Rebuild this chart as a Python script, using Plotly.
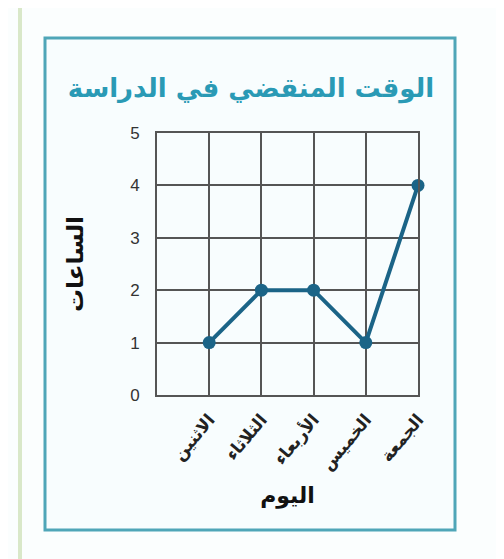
import plotly.graph_objects as go

days = ["الاثنين", "الثلاثاء", "الأربعاء", "الخميس", "الجمعة"]
day_pos = [1, 2, 3, 4, 5]
hours = [1, 2, 2, 1, 4]
y_ticks = [0, 1, 2, 3, 4, 5]

title_text = "<b>الوقت المنقضي في الدراسة</b>"
x_title = "<b>اليوم</b>"
y_title = "<b>الساعات</b>"

OFF = 8  # body margin of the page
W, H = 504 - OFF, 559 - OFF
L, R, T, B = 157 - OFF, 418 - OFF, 133 - OFF, 395 - OFF

def px_x(p):
    return (p - OFF - L) / (R - L)

def px_y(p):
    return (B - (p - OFF)) / (B - T)

fig = go.Figure()
fig.add_trace(go.Scatter(
    x=day_pos, y=hours, mode="lines+markers",
    line=dict(color="#1b6487", width=4),
    marker=dict(color="#1b6487", size=13),
    showlegend=False, cliponaxis=False,
))

grid_col = "#555555"
fig.update_layout(
    width=W, height=H,
    margin=dict(l=L, r=W - R, t=T, b=H - B),
    paper_bgcolor="#fbfefe",
    plot_bgcolor="white",
    title=dict(text=title_text, x=(251 - OFF) / W, xref="container", xanchor="center",
               y=1 - (88 - OFF) / H, yanchor="middle",
               font=dict(family="DejaVu Sans", size=26, color="#2a9ab5")),
    xaxis=dict(range=[0, 5], tickvals=day_pos, ticktext=["<b>%s</b>" % d for d in days],
               tickangle=-50,
               showgrid=True, gridcolor=grid_col, gridwidth=2,
               showline=True, linecolor=grid_col, linewidth=2, mirror=True,
               zeroline=False, ticks="outside", ticklen=6, tickcolor="rgba(0,0,0,0)",
               tickfont=dict(family="DejaVu Sans", size=17, color="#222222"),
               title=dict(text=x_title, standoff=14,
                          font=dict(family="DejaVu Sans", size=22, color="#111111"))),
    yaxis=dict(range=[0, 5], tickvals=y_ticks,
               showgrid=True, gridcolor=grid_col, gridwidth=2,
               showline=True, linecolor=grid_col, linewidth=2, mirror=True,
               zeroline=False, ticks="outside", ticklen=12, tickcolor="rgba(0,0,0,0)",
               tickfont=dict(family="Liberation Sans", size=17, color="#333333"),
               title=dict(text=y_title, standoff=40,
                          font=dict(family="DejaVu Sans", size=23, color="#111111"))),
    shapes=[
        dict(type="rect", xref="paper", yref="paper",
             x0=px_x(45), x1=px_x(455), y0=px_y(530), y1=px_y(38),
             line=dict(color="#4fa6b8", width=3), fillcolor="#f8fdfe", layer="below"),
        dict(type="line", xref="paper", yref="paper",
             x0=px_x(20), x1=px_x(20), y0=px_y(559), y1=px_y(0),
             line=dict(color="#d9e8c9", width=4), layer="below"),
    ],
)

fig.write_html("out.html")
